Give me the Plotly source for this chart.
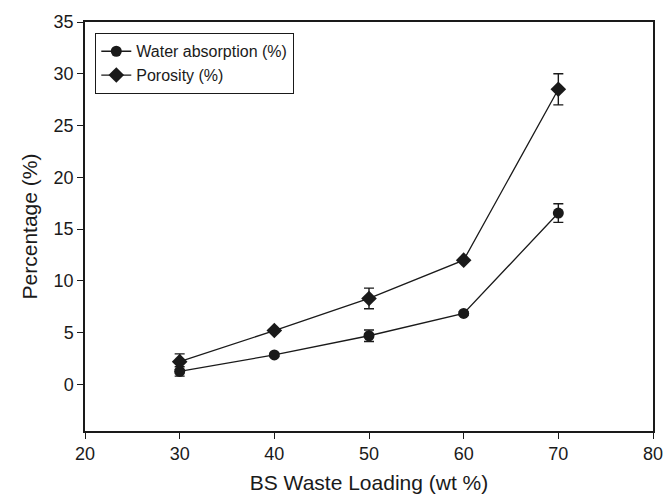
import plotly.graph_objects as go

loading = [30, 40, 50, 60, 70]
water = [1.25, 2.85, 4.7, 6.85, 16.55]
water_err = [0.45, 0.15, 0.55, 0.15, 0.9]
porosity = [2.2, 5.2, 8.3, 12.0, 28.5]
porosity_err = [0.75, 0.15, 1.0, 0.15, 1.5]
x_ticks = [20, 30, 40, 50, 60, 70, 80]
y_ticks = [0, 5, 10, 15, 20, 25, 30, 35]

ink = "#1a1a1a"
font_family = "Liberation Sans, Arial"
fig = go.Figure()
fig.add_trace(go.Scatter(
    x=loading, y=water, name="Water absorption (%)", mode="lines+markers",
    line=dict(color=ink, width=1.3),
    marker=dict(symbol="circle", size=11, color=ink),
    error_y=dict(type="data", array=water_err, color=ink, thickness=1.4, width=5),
))
fig.add_trace(go.Scatter(
    x=loading, y=porosity, name="Porosity (%)", mode="lines+markers",
    line=dict(color=ink, width=1.3),
    marker=dict(symbol="diamond", size=12, color=ink),
    error_y=dict(type="data", array=porosity_err, color=ink, thickness=1.4, width=5),
))

axis_common = dict(
    showgrid=False, zeroline=False, showline=True, linecolor=ink, linewidth=1.5,
    mirror=True, ticks="outside", ticklen=6, tickwidth=1.3, tickcolor=ink,
    tickfont=dict(family=font_family, size=18, color=ink), automargin=False,
)
fig.update_layout(
    width=667, height=494,
    margin=dict(l=85, r=14, t=22, b=63),
    paper_bgcolor="white", plot_bgcolor="white",
    showlegend=True,
    legend=dict(
        x=0.0176, y=0.973, xanchor="left", yanchor="top",
        bordercolor=ink, borderwidth=1.3, bgcolor="white",
        font=dict(family=font_family, size=16, color=ink),
        tracegroupgap=0, itemwidth=30,
    ),
    xaxis=dict(range=[20, 80], tickvals=x_ticks,
               title=dict(text="BS Waste Loading (wt %)", standoff=19,
                          font=dict(family=font_family, size=21, color=ink)),
               **axis_common),
    yaxis=dict(range=[-4.5, 35], tickvals=y_ticks,
               title=dict(text="Percentage (%)", standoff=10,
                          font=dict(family=font_family, size=21, color=ink)),
               **axis_common),
)
fig.write_html("out.html")
